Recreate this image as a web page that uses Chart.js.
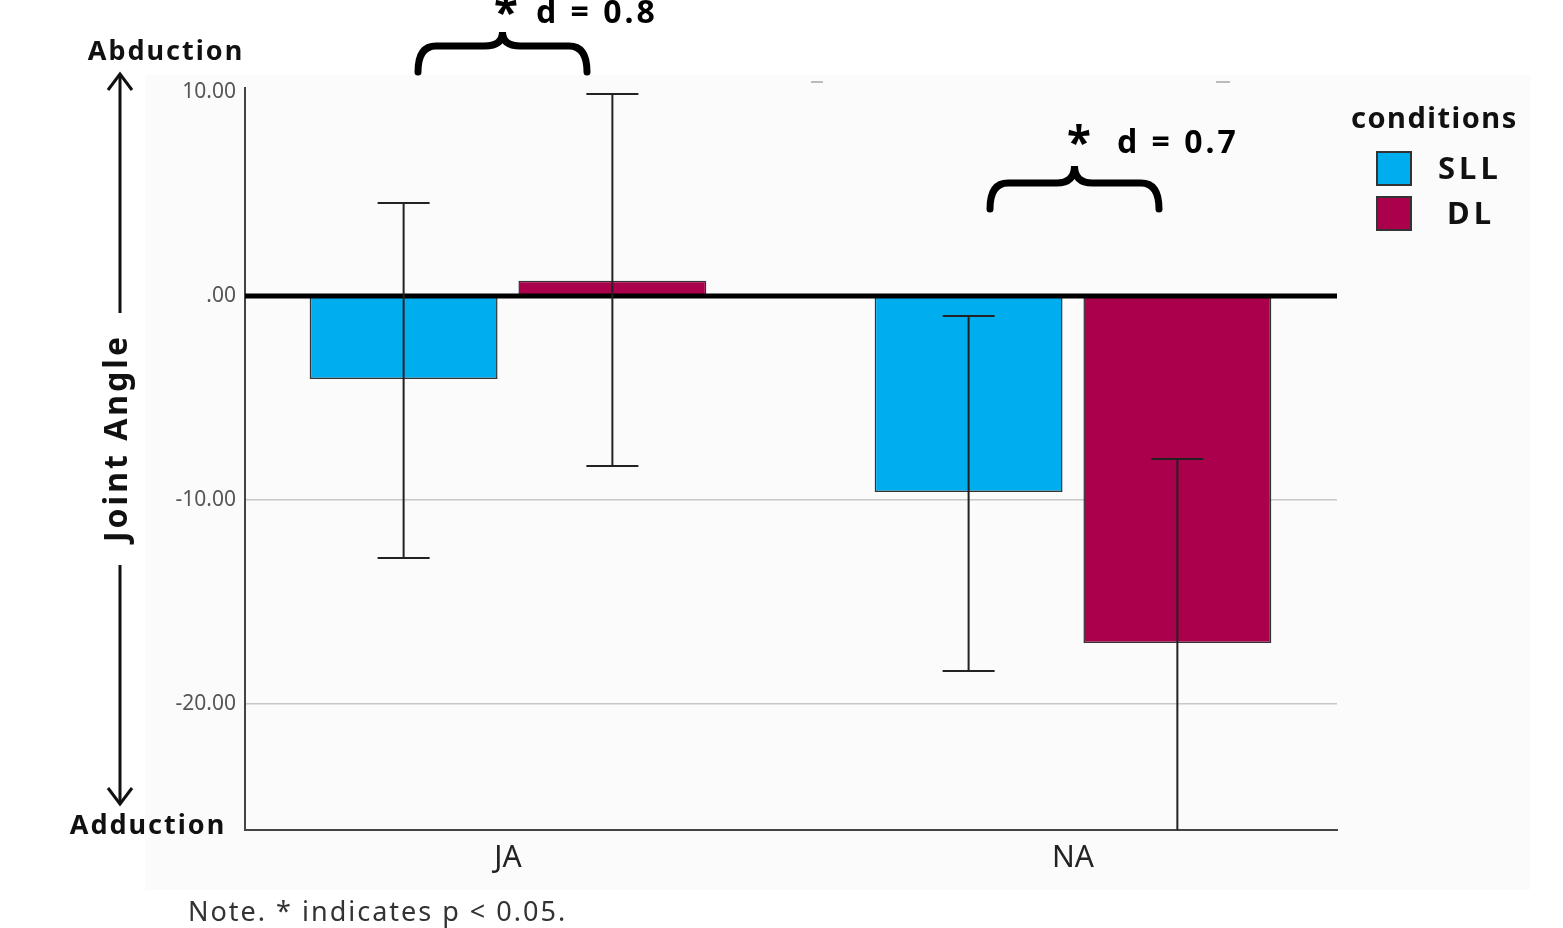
<!DOCTYPE html>
<html>
<head>
<meta charset="utf-8">
<script src="https://cdn.jsdelivr.net/npm/chart.js@4.4.1/dist/chart.umd.min.js"></script>
<style>
    html, body { margin: 0; padding: 0; background: #fff; }
    #wrap { width: 1563px; height: 928px; position: relative; }
</style>
</head>
<body>
<div id="wrap"><canvas id="chart" width="1563" height="928"></canvas></div>
<script>
// data
const categories = ['JA', 'NA'];
const seriesNames = ['SLL', 'DL'];
const sllMeans = [-4.07, -9.62];
const sllHigh = [4.56, -0.98];
const sllLow = [-12.86, -18.4];
const dlMeans = [0.74, -17.03];
const dlHigh = [9.91, -8.0];
const dlLow = [-8.34, -27.5];
const yTicks = [-20, -10, 0, 10];
const effectSizes = ['d = 0.8', 'd = 0.7'];

const colors = ['#00aeef', '#ab004b'];
const errors = [
    { high: sllHigh, low: sllLow },
    { high: dlHigh, low: dlLow },
];

const FONT = '"Noto Sans", "Open Sans", sans-serif';

function drawBrace(ctx, x1, x2, yTip, yMid, yEnd) {
    const cx = (x1 + x2) / 2;
    const q = 18;
    ctx.beginPath();
    ctx.moveTo(x1, yEnd);
    ctx.quadraticCurveTo(x1, yMid, x1 + q, yMid);
    ctx.lineTo(cx - q, yMid);
    ctx.quadraticCurveTo(cx, yMid, cx, yTip);
    ctx.quadraticCurveTo(cx, yMid, cx + q, yMid);
    ctx.lineTo(x2 - q, yMid);
    ctx.quadraticCurveTo(x2, yMid, x2, yEnd);
    ctx.stroke();
}

function drawArrowHead(ctx, x, y, dir) {
    ctx.beginPath();
    ctx.moveTo(x - 12, y - dir * 16);
    ctx.lineTo(x, y);
    ctx.lineTo(x + 12, y - dir * 16);
    ctx.stroke();
}

const decorations = {
    id: 'decorations',
    beforeDraw(chart) {
        const ctx = chart.ctx;
        ctx.save();
        ctx.fillStyle = '#ffffff';
        ctx.fillRect(0, 0, chart.width, chart.height);
        ctx.fillStyle = '#fbfbfb';
        ctx.fillRect(145, 75, 1385, 815);
        ctx.restore();
    },
    afterDatasetsDraw(chart) {
        const ctx = chart.ctx;
        const area = chart.chartArea;
        const yScale = chart.scales.y;

        // zero line
        ctx.save();
        ctx.strokeStyle = '#000';
        ctx.lineWidth = 5;
        const y0 = yScale.getPixelForValue(0);
        ctx.beginPath();
        ctx.moveTo(area.left, y0);
        ctx.lineTo(area.right, y0);
        ctx.stroke();
        ctx.restore();

        // error bars
        ctx.save();
        ctx.beginPath();
        ctx.rect(area.left, area.top - 10, area.right - area.left, area.bottom - area.top + 10);
        ctx.clip();
        ctx.strokeStyle = '#222';
        ctx.lineWidth = 2;
        errors.forEach((err, di) => {
            const meta = chart.getDatasetMeta(di);
            meta.data.forEach((bar, i) => {
                const x = bar.x;
                const yh = yScale.getPixelForValue(err.high[i]);
                const yl = yScale.getPixelForValue(err.low[i]);
                ctx.beginPath();
                ctx.moveTo(x, yh);
                ctx.lineTo(x, yl);
                ctx.moveTo(x - 26, yh);
                ctx.lineTo(x + 26, yh);
                ctx.moveTo(x - 26, yl);
                ctx.lineTo(x + 26, yl);
                ctx.stroke();
            });
        });
        ctx.restore();
    },
    afterDraw(chart) {
        const ctx = chart.ctx;
        ctx.save();

        // small marks on top edge
        ctx.strokeStyle = '#bbb';
        ctx.lineWidth = 2;
        ctx.beginPath();
        ctx.moveTo(811, 82); ctx.lineTo(823, 82);
        ctx.moveTo(1216, 82); ctx.lineTo(1230, 82);
        ctx.stroke();

        // left axis annotation
        ctx.fillStyle = '#111';
        ctx.strokeStyle = '#111';
        ctx.lineWidth = 3;
        ctx.textAlign = 'center';
        ctx.textBaseline = 'middle';
        ctx.font = 'bold 27px ' + FONT;
        ctx.letterSpacing = '2px';
        ctx.fillText('Abduction', 166, 52);
        ctx.fillText('Adduction', 148, 826);

        ctx.beginPath();
        ctx.moveTo(120, 74); ctx.lineTo(120, 313);
        ctx.moveTo(120, 565); ctx.lineTo(120, 804);
        ctx.stroke();
        drawArrowHead(ctx, 120, 74, -1);
        drawArrowHead(ctx, 120, 804, 1);

        ctx.save();
        ctx.translate(118, 438);
        ctx.rotate(-Math.PI / 2);
        ctx.font = 'bold 32px ' + FONT;
        ctx.letterSpacing = '3px';
        ctx.fillText('Joint Angle', 0, 0);
        ctx.restore();

        // significance braces
        ctx.lineWidth = 7;
        ctx.lineCap = 'round';
        ctx.strokeStyle = '#000';
        drawBrace(ctx, 418, 587, 32, 46, 72);
        drawBrace(ctx, 990, 1159, 166, 183, 209);

        ctx.fillStyle = '#000';
        ctx.textAlign = 'left';
        ctx.textBaseline = 'alphabetic';
        ctx.font = 'bold 32px ' + FONT;
        ctx.letterSpacing = '3px';
        ctx.fillText(effectSizes[0], 536, 23);
        ctx.fillText(effectSizes[1], 1117, 153);
        ctx.font = 'bold 44px ' + FONT;
        ctx.textAlign = 'center';
        ctx.letterSpacing = '0px';
        ctx.fillText('*', 506, 28);
        ctx.fillText('*', 1079, 158);

        // legend
        ctx.textAlign = 'left';
        ctx.textBaseline = 'middle';
        ctx.font = 'bold 29px ' + FONT;
        ctx.letterSpacing = '1.5px';
        ctx.fillStyle = '#111';
        ctx.fillText('conditions', 1351, 120);
        ctx.letterSpacing = '4px';
        const boxY = [152, 197];
        const textX = [1438, 1447];
        seriesNames.forEach((name, i) => {
            ctx.fillStyle = colors[i];
            ctx.fillRect(1377, boxY[i], 34, 33);
            ctx.strokeStyle = '#333';
            ctx.lineWidth = 2;
            ctx.strokeRect(1377, boxY[i], 34, 33);
            ctx.fillStyle = '#111';
            ctx.font = 'bold 31px ' + FONT;
            ctx.fillText(name, textX[i], boxY[i] + 18);
        });

        // note
        ctx.font = '27px ' + FONT;
        ctx.fillStyle = '#333';
        ctx.letterSpacing = '2px';
        ctx.textBaseline = 'middle';
        ctx.fillText('Note. * indicates p < 0.05.', 188, 913);

        ctx.restore();
    }
};

const ctx = document.getElementById('chart').getContext('2d');

new Chart(ctx, {
    type: 'bar',
    data: {
        datasets: [
            {
                label: seriesNames[0],
                data: sllMeans.map((v, i) => ({ x: i, y: v })),
                backgroundColor: colors[0],
                borderColor: '#333',
                borderWidth: 1.5,
            },
            {
                label: seriesNames[1],
                data: dlMeans.map((v, i) => ({ x: i, y: v })),
                backgroundColor: colors[1],
                borderColor: '#333',
                borderWidth: 1.5,
            },
        ],
    },
    options: {
        responsive: false,
        animation: false,
        barPercentage: 0.9,
        categoryPercentage: 0.739,
        layout: { padding: { top: 88, right: 226, left: 0, bottom: 0 } },
        plugins: {
            legend: { display: false },
            tooltip: { enabled: false },
        },
        scales: {
            x: {
                type: 'linear',
                offset: false,
                min: -0.4655,
                max: 1.4673,
                afterBuildTicks: (scale) => {
                    scale.ticks = categories.map((c, i) => ({ value: i }));
                },
                afterFit: (scale) => { scale.height = 98; },
                grid: { display: false, drawTicks: false, offset: false },
                border: { display: true, color: '#444', width: 2 },
                ticks: {
                    callback: (v) => categories[v] ?? '',
                    color: '#222',
                    padding: 10,
                    font: { family: FONT, size: 30 },
                    maxRotation: 0,
                },
            },
            y: {
                min: -26.2,
                max: 10.2,
                afterBuildTicks: (scale) => {
                    scale.ticks = yTicks.map(v => ({ value: v }));
                },
                afterFit: (scale) => { scale.width = 245; },
                grid: {
                    drawTicks: false,
                    lineWidth: 1.5,
                    color: (c) => (c.tick && c.tick.value < 0) ? '#c8c8c8' : 'rgba(0,0,0,0)',
                },
                border: { display: true, color: '#444', width: 2 },
                ticks: {
                    callback: (v) => v === 0 ? '.00' : v.toFixed(2),
                    color: '#555',
                    padding: 9,
                    font: { family: FONT, size: 21 },
                },
            },
        },
    },
    plugins: [decorations],
});
</script>
</body>
</html>
